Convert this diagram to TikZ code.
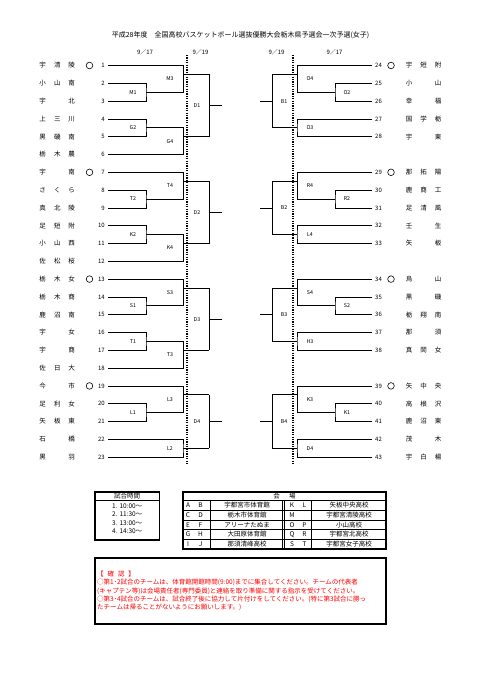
\documentclass[tikz,border=0pt]{standalone}
\usepackage{fontspec}
\setmainfont{Noto Sans CJK JP}
\usetikzlibrary{calc}

\tikzset{
  bracket/.style={line width=0.7pt},
  dayline/.style={line width=1.7pt, dash pattern=on 1.2pt off 1.2pt},
  teamname/.style={inner sep=0pt, font=\fontsize{6.5}{7}\selectfont},
  slotno/.style={inner sep=0pt, font=\fontsize{6}{7}\selectfont},
  gamelbl/.style={inner sep=0pt, font=\fontsize{5.3}{6}\selectfont},
  datelbl/.style={inner sep=0pt, font=\fontsize{6}{7}\selectfont},
  seedmark/.style={circle, draw, line width=0.6pt, minimum size=6.6pt, inner sep=0pt},
  framebox/.style={draw, line width=1.3pt},
  tabtext/.style={inner sep=0pt, font=\fontsize{6.5}{7}\selectfont},
  notetext/.style={inner sep=0pt, anchor=west, text=red, font=\fontsize{6.5}{7}\selectfont},
}

% row number -> y
\newcommand\rowy[2]{\pgfmathsetmacro#1{65.5+17.8*(#2-1)}}

% single slot against a first round pair
\newcommand\singlepair[6]{%
  \rowy\rowtop{#1}%
  \pgfmathsetmacro\rowmid{\rowtop+26.7}%
  \pgfmathsetmacro\rowout{\rowtop+8.9}%
  \coordinate (\side#5) at (\colA,\rowmid);
  \coordinate (\side#5e) at (\colB,\rowmid);
  \coordinate (\side#6) at (\colB,\rowout);
  \coordinate (\side#6e) at (\colC,\rowout);
  \draw[bracket] (s#3) -| (\side#5) |- (s#4);
  \draw[bracket] (s#2) -| (\side#5e) -- (\side#5);
  \draw[bracket] (\side#6) -- (\side#6e);
  \node[gamelbl] (\side#5l) at (\labA,\rowmid) {#5};
  \node[gamelbl] (\side#6l) at (\labB,\rowout+4.5) {#6};
}

% first round pair against a single slot below
\newcommand\pairsingle[6]{%
  \rowy\rowtop{#1}%
  \pgfmathsetmacro\rowmid{\rowtop+8.9}%
  \pgfmathsetmacro\rowout{\rowtop+17.8}%
  \coordinate (\side#5) at (\colA,\rowmid);
  \coordinate (\side#5e) at (\colB,\rowmid);
  \coordinate (\side#6) at (\colB,\rowout);
  \coordinate (\side#6e) at (\colC,\rowout);
  \draw[bracket] (s#2) -| (\side#5) |- (s#3);
  \draw[bracket] (\side#5) -- (\side#5e) |- (s#4);
  \draw[bracket] (\side#6) -- (\side#6e);
  \node[gamelbl] (\side#5l) at (\labA,\rowmid) {#5};
  \node[gamelbl] (\side#6l) at (\labB,\rowout+4.5) {#6};
}

% pair meeting in the second round
\newcommand\latepair[4]{%
  \rowy\rowtop{#1}%
  \pgfmathsetmacro\rowmid{\rowtop+8.9}%
  \coordinate (\side#4) at (\colB,\rowmid);
  \coordinate (\side#4e) at (\colC,\rowmid);
  \draw[bracket] (s#2) -| (\side#4) |- (s#3);
  \draw[bracket] (\side#4) -- (\side#4e);
  \node[gamelbl] (\side#4l) at (\labB,\rowmid) {#4};
}

% block final on 9/19
\newcommand\blockfinal[3]{%
  \coordinate (\side#3) at ($(\side#1e)!.5!(\side#2e)$);
  \coordinate (\side#3e) at ($(\side#3)+(\stubdx,0)$);
  \draw[bracket] (\side#1e) -- (\side#2e);
  \draw[bracket] (\side#3) -- (\side#3e);
  \node[gamelbl] (\side#3l) at ($(\side#3)+(\labdx,0)$) {#3};
}

\begin{document}
\begin{tikzpicture}[x=1pt,y=-1pt]
  \fill[white] (0,0) rectangle (481,680);
  \useasboundingbox (0,0) rectangle (481,680);

  % title and dates
  \node[inner sep=0pt, font=\fontsize{7}{8}\selectfont] (title) at (240.5,35)
    {平成28年度　全国高校バスケットボール選抜優勝大会栃木県予選会一次予選(女子)};
  \node[datelbl] (dl1) at (145,52.3) {9／17};
  \node[datelbl] (dl2) at (200.5,52.3) {9／19};
  \node[datelbl] (dr2) at (276.5,52.3) {9／19};
  \node[datelbl] (dr1) at (334.5,52.3) {9／17};
  \draw[dayline] (187,55) -- (187,464);
  \draw[dayline] (293,55) -- (293,464);

  % left teams
  \foreach \n/\a/\b/\c in {1/宇/清/陵, 2/小/山/南, 3/宇//北, 4/上/三/川, 5/黒/磯/南,
      6/栃/木/農, 7/宇//南, 8/さ/く/ら, 9/真/北/陵, 10/足/短/附, 11/小/山/西,
      12/佐/松/桜, 13/栃/木/女, 14/栃/木/商, 15/鹿/沼/南, 16/宇//女, 17/宇//商,
      18/佐/日/大, 19/今//市, 20/足/利/女, 21/矢/板/東, 22/石//橋, 23/黒//羽}{
    \rowy\slotY{\n}
    \coordinate (s\n) at (108,\slotY);
    \node[slotno, anchor=east] (no\n) at (105,\slotY) {\n};
    \node[teamname] (nm\n-1) at (42.7,\slotY) {\a};
    \node[teamname] (nm\n-2) at (57.3,\slotY) {\b};
    \node[teamname] (nm\n-3) at (71.7,\slotY) {\c};
  }
  \foreach \n in {1,7,13,19}{
    \rowy\slotY{\n}
    \node[seedmark] (mk\n) at (89.5,\slotY) {};
  }

  % right teams
  \foreach \n/\r/\a/\b/\c in {24/1/宇/短/附, 25/2/小//山, 26/3/幸//福, 27/4/国/学/栃,
      28/5/宇//東, 29/7/那/拓/陽, 30/8/鹿/商/工, 31/9/足/清/風, 32/10/壬//生,
      33/11/矢//板, 34/13/烏//山, 35/14/黒//磯, 36/15/栃/翔/南, 37/16/那//須,
      38/17/真/岡/女, 39/19/矢/中/央, 40/20/高/根/沢, 41/21/鹿/沼/東,
      42/22/茂//木, 43/23/宇/白/楊}{
    \rowy\slotY{\r}
    \coordinate (s\n) at (372,\slotY);
    \node[slotno, anchor=west] (no\n) at (375,\slotY) {\n};
    \node[teamname] (nm\n-1) at (409,\slotY) {\a};
    \node[teamname] (nm\n-2) at (423.5,\slotY) {\b};
    \node[teamname] (nm\n-3) at (438,\slotY) {\c};
  }
  \foreach \n/\r in {24/1,29/7,34/13,39/19}{
    \rowy\slotY{\r}
    \node[seedmark] (mk\n) at (391,\slotY) {};
  }

  % left bracket
  \begin{scope}
    \def\side{l}\def\colA{146}\def\colB{183}\def\colC{209}
    \def\labA{133}\def\labB{170}\def\stubdx{12.5}\def\labdx{-12}
    \singlepair{1}{1}{2}{3}{M1}{M3}
    \pairsingle{4}{4}{5}{6}{G2}{G4}
    \blockfinal{M3}{G4}{D1}
    \singlepair{7}{7}{8}{9}{T2}{T4}
    \pairsingle{10}{10}{11}{12}{K2}{K4}
    \blockfinal{T4}{K4}{D2}
    \singlepair{13}{13}{14}{15}{S1}{S3}
    \pairsingle{16}{16}{17}{18}{T1}{T3}
    \blockfinal{S3}{T3}{D3}
    \singlepair{19}{19}{20}{21}{L1}{L3}
    \latepair{22}{22}{23}{L2}
    \blockfinal{L3}{L2}{D4}
  \end{scope}

  % right bracket
  \begin{scope}
    \def\side{r}\def\colA{335}\def\colB{297}\def\colC{272}
    \def\labA{347}\def\labB{310}\def\stubdx{-12.5}\def\labdx{12}
    \singlepair{1}{24}{25}{26}{O2}{O4}
    \latepair{4}{27}{28}{O3}
    \blockfinal{O4}{O3}{B1}
    \singlepair{7}{29}{30}{31}{R2}{R4}
    \latepair{10}{32}{33}{L4}
    \blockfinal{R4}{L4}{B2}
    \singlepair{13}{34}{35}{36}{S2}{S4}
    \latepair{16}{37}{38}{H3}
    \blockfinal{S4}{H3}{B3}
    \singlepair{19}{39}{40}{41}{K1}{K3}
    \latepair{22}{42}{43}{D4}
    \blockfinal{K3}{D4}{B4}
  \end{scope}

  % match times
  \draw[framebox] (95,492) rectangle (159.5,540);
  \draw[line width=0.6pt] (95,500.7) -- (159.5,500.7);
  \node[tabtext] (timehd) at (127.2,496.5) {試合時間};
  \foreach \t [count=\k] in {1. 10:00～, 2. 11:30～, 3. 13:00～, 4. 14:30～}{
    \node[tabtext] (time\k) at (127.2,{506+(\k-1)*8.4}) {\t};
  }

  % venues
  \draw[framebox] (183,492) rectangle (386,549);
  \draw[line width=0.6pt] (183,500.7) -- (386,500.7);
  \foreach \k in {1,...,4}{
    \draw[line width=0.5pt] (183,{500.7+\k*9.66}) -- (386,{500.7+\k*9.66});
  }
  \draw[line width=0.5pt] (210.7,500.7) -- (210.7,549);
  \draw[line width=0.5pt] (282.4,500.7) -- (282.4,549);
  \draw[line width=0.5pt] (284.4,500.7) -- (284.4,549);
  \draw[line width=0.5pt] (311.7,500.7) -- (311.7,549);
  \node[tabtext] (venuehd) at (284.5,496.5) {会\hspace{1.4em}場};
  \foreach \pa/\pb/\vn/\qa/\qb/\wn [count=\k] in {A/B/宇都宮市体育館/K/L/矢板中央高校,
      C/D/栃木市体育館/M//宇都宮清陵高校, E/F/アリーナたぬま/O/P/小山高校,
      G/H/大田原体育館/Q/R/宇都宮北高校, I/J/那須清峰高校/S/T/宇都宮女子高校}{
    \pgfmathsetmacro\vy{505.5+(\k-1)*9.66}
    \node[tabtext] (va\k) at (188,\vy) {\pa};
    \node[tabtext] (vb\k) at (200.5,\vy) {\pb};
    \node[tabtext] (vn\k) at (247,\vy) {\vn};
    \node[tabtext] (wa\k) at (292,\vy) {\qa};
    \node[tabtext] (wb\k) at (304.5,\vy) {\qb};
    \node[tabtext] (wn\k) at (349,\vy) {\wn};
  }

  % notes
  \draw[framebox] (95,558) rectangle (386,624);
  \node[notetext] (note0) at (97,574) {【\hspace{0.6em}確\hspace{0.6em}認\hspace{0.6em}】};
  \node[notetext] (note1) at (97,582.7) {○第1･2試合のチームは、体育館開館時間(9:00)までに集合してください。チームの代表者};
  \node[notetext] (note2) at (97,590.9) {(キャプテン等)は会場責任者(専門委員)と連絡を取り準備に関する指示を受けてください。};
  \node[notetext] (note3) at (97,599.1) {○第3･4試合のチームは、試合終了後に協力して片付けをしてください。(特に第3試合に勝っ};
  \node[notetext] (note4) at (97,607.3) {たチームは帰ることがないようにお願いします。)};
\end{tikzpicture}
\end{document}
